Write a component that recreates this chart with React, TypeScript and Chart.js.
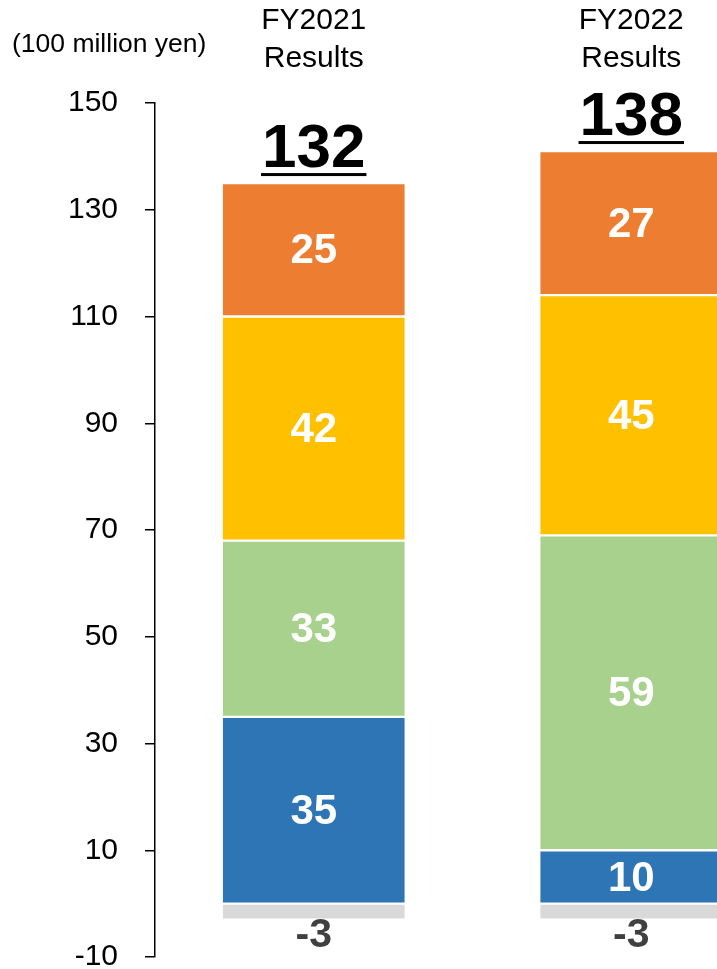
import React, { useEffect, useRef } from 'react';
import { Chart, registerables } from 'chart.js';
Chart.register(...registerables);

const categories = [['FY2021', 'Results'], ['FY2022', 'Results']];
const seriesBlue = [35, 10];
const seriesGreen = [33, 59];
const seriesYellow = [42, 45];
const seriesOrange = [25, 27];
const seriesGray = [-3, -3];
const yTicks = [-10, 10, 30, 50, 70, 90, 110, 130, 150];
const unitLabel = '(100 million yen)';

const FONT = '"Liberation Sans", Arial, sans-serif';

const labelPlugin = {
  id: 'customLabels',
  afterDatasetsDraw(chart: any) {
    const ctx = chart.ctx;
    ctx.save();
    const n = chart.data.labels.length;
    chart.data.datasets.forEach((ds: any, di: number) => {
      const meta = chart.getDatasetMeta(di);
      meta.data.forEach((el: any, i: number) => {
        const v = ds.data[i];
        ctx.textAlign = 'center';
        ctx.textBaseline = 'middle';
        if (v < 0) {
          ctx.fillStyle = '#404040';
          ctx.font = `bold 41px ${FONT}`;
          ctx.fillText(String(v), el.x, Math.max(el.y, el.base) + 16);
        } else {
          ctx.fillStyle = '#ffffff';
          ctx.font = `bold 42px ${FONT}`;
          ctx.fillText(String(v), el.x, (el.y + el.base) / 2 + 2);
        }
      });
    });
    // totals
    for (let i = 0; i < n; i++) {
      let total = 0;
      let top = Infinity;
      let x = 0;
      chart.data.datasets.forEach((ds: any, di: number) => {
        total += ds.data[i];
        const el = chart.getDatasetMeta(di).data[i];
        x = el.x;
        top = Math.min(top, el.y, el.base);
      });
      ctx.fillStyle = '#000';
      ctx.font = `bold 62px ${FONT}`;
      ctx.textAlign = 'center';
      ctx.textBaseline = 'alphabetic';
      const base = top - 16;
      const txt = String(total);
      ctx.fillText(txt, x, base);
      const w = ctx.measureText(txt).width;
      ctx.fillRect(x - w / 2 - 1, base + 6, w + 2, 3);
    }
    // unit label
    ctx.fillStyle = '#000';
    ctx.font = `26.5px ${FONT}`;
    ctx.textAlign = 'left';
    ctx.textBaseline = 'alphabetic';
    ctx.fillText(unitLabel, 12, 52);
    ctx.restore();
  },
};

export default function App() {
  const ref = useRef<HTMLCanvasElement>(null);
  useEffect(() => {
    if (!ref.current) return;
    const mk = (label: string, data: number[], color: string) => ({
      label,
      data,
      backgroundColor: color,
      borderColor: '#ffffff',
      borderWidth: 1.5,
      borderSkipped: false,
      barThickness: 184,
    });
    const chart = new Chart(ref.current, {
      type: 'bar',
      data: {
        labels: categories as any,
        datasets: [
          mk('Blue', seriesBlue, '#2E75B6'),
          mk('Green', seriesGreen, '#A9D18E'),
          mk('Yellow', seriesYellow, '#FFC000'),
          mk('Orange', seriesOrange, '#ED7D31'),
          mk('Gray', seriesGray, '#D9D9D9'),
        ],
      },
      options: {
        responsive: false,
        animation: false,
        layout: { padding: { top: 0, bottom: 14, left: 0, right: 0 } },
        plugins: { legend: { display: false }, tooltip: { enabled: false } },
        scales: {
          x: {
            position: 'top',
            stacked: true,
            afterFit: (s: any) => { s.height = 103; },
            grid: { display: false, drawTicks: false },
            border: { display: false },
            ticks: {
              font: { family: FONT, size: 30, lineHeight: 1.27 },
              color: '#000',
              padding: 25,
              maxRotation: 0,
            },
          },
          y: {
            stacked: true,
            min: -10,
            max: 150,
            afterBuildTicks: (s: any) => { s.ticks = yTicks.map((v) => ({ value: v })); },
            afterFit: (s: any) => { s.width = 155; },
            grid: { drawOnChartArea: false, drawTicks: true, tickLength: 10, color: '#000', lineWidth: 1.5 },
            border: { display: true, color: '#000', width: 1.5 },
            ticks: { font: { family: FONT, size: 30 }, color: '#000', padding: 27 },
          },
        },
      },
      plugins: [labelPlugin],
    } as any);
    return () => chart.destroy();
  }, []);
  return (
    <div style={{ position: 'fixed', left: 0, top: 0, width: 717, height: 969, overflow: 'hidden', background: '#fff' }}>
      <canvas ref={ref} width={790} height={1002} />
    </div>
  );
}
